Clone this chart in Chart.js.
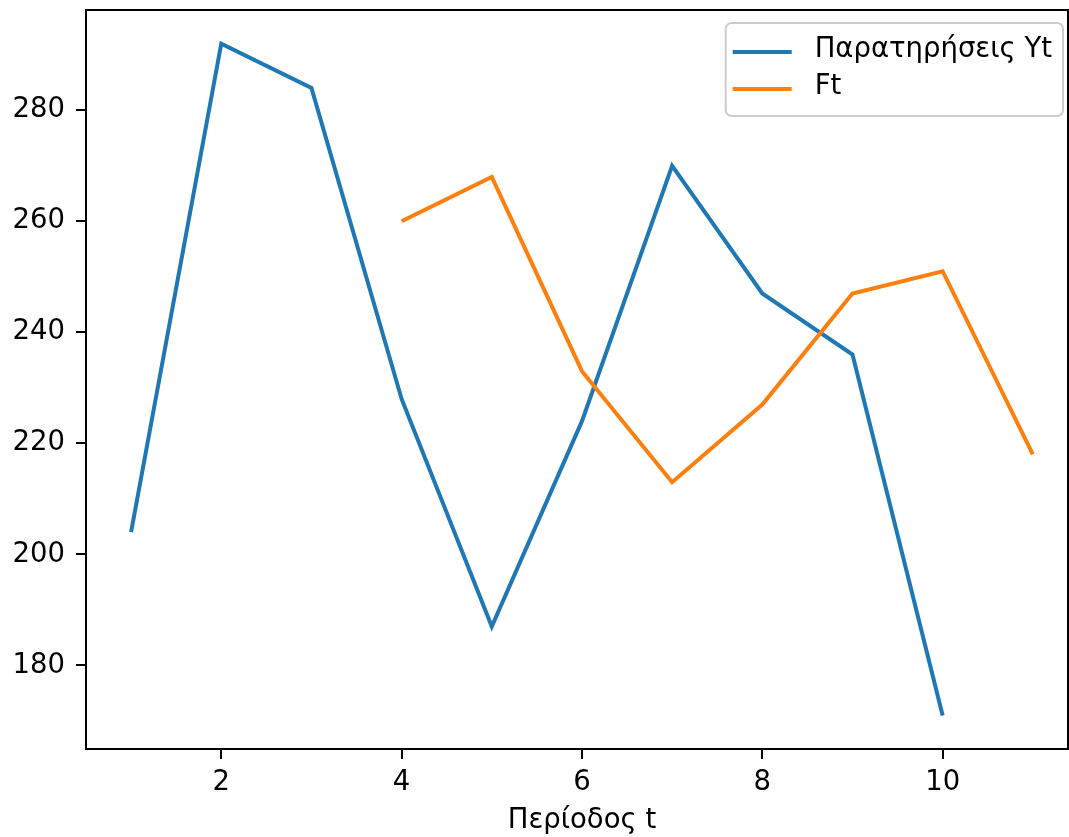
<!DOCTYPE html>
<html><head><meta charset="utf-8">
<script src="https://cdn.jsdelivr.net/npm/chart.js@4"></script>
<style>html,body{margin:0;padding:0;background:#fff;overflow:hidden}#wrap{width:1069px;height:837px}</style>
</head><body><div id="wrap"><canvas id="c" width="1069" height="837"></canvas></div>
<script>
const periods = [1,2,3,4,5,6,7,8,9,10,11];
const observations = [204,292,284,228,187,224,270,247,236,171,null];
const forecasts = [null,null,null,260,268,233,213,227,247,251,218];
const xTicks = [2,4,6,8,10];
const yTicks = [180,200,220,240,260,280];
const seriesLabels = ['Παρατηρήσεις Yt','Ft'];
const xAxisLabel = 'Περίοδος t';

const FONT = 'DejaVu Sans';
const FS = 27.5;

function pts(vals){ return periods.map((p,i)=>({x:p,y:vals[i]})); }

const frame = {
  id:'frame',
  afterDraw(chart){
    const {ctx, chartArea:a} = chart;
    ctx.save();
    ctx.strokeStyle='#000'; ctx.lineWidth=2;
    ctx.strokeRect(a.left, a.top, a.right-a.left, a.bottom-a.top);
    const xs = chart.scales.x;
    const cx = (xs.getPixelForValue(0.5)+xs.getPixelForValue(11.5))/2;
    ctx.fillStyle='#000';
    ctx.font = FS+'px "'+FONT+'"';
    ctx.textAlign='center'; ctx.textBaseline='alphabetic';
    ctx.fillText(xAxisLabel, cx, 828);
    const labels = chart.data.datasets.map(d=>d.label);
    const textW = Math.max(...labels.map(l=>ctx.measureText(l).width));
    const w = 11 + 56 + 22 + textW + 11;
    const right = a.right - 5, top = a.top + 13, h = 93;
    const left = right - w;
    ctx.beginPath();
    ctx.roundRect(left, top, w, h, 6);
    ctx.fillStyle='rgba(255,255,255,0.8)'; ctx.fill();
    ctx.strokeStyle='#cccccc'; ctx.lineWidth=2; ctx.stroke();
    chart.data.datasets.forEach((d,i)=>{
      const y = top + 29 + i*37;
      ctx.beginPath();
      ctx.moveTo(left+7, y); ctx.lineTo(left+66, y);
      ctx.strokeStyle=d.borderColor; ctx.lineWidth=4; ctx.stroke();
      ctx.fillStyle='#000'; ctx.textAlign='left'; ctx.textBaseline='alphabetic';
      ctx.fillText(d.label, left+89, y+5);
    });
    ctx.restore();
  }
};

function noPad(s){ s.paddingTop=0; s.paddingBottom=0; s.paddingLeft=0; s.paddingRight=0; }

const tickFont = {family:FONT, size:FS};
new Chart(document.getElementById('c'), {
  type:'line',
  data:{
    datasets:[
      {label:seriesLabels[0], data:pts(observations), borderColor:'#1f77b4', backgroundColor:'#1f77b4', borderWidth:4, pointRadius:0, tension:0, order:1},
      {label:seriesLabels[1], data:pts(forecasts), borderColor:'#ff7f0e', backgroundColor:'#ff7f0e', borderWidth:4, pointRadius:0, tension:0, order:0}
    ]
  },
  options:{
    responsive:false, animation:false, devicePixelRatio:1,
    layout:{padding:{top:10, right:1, left:0, bottom:0}},
    plugins:{legend:{display:false}, tooltip:{enabled:false}},
    scales:{
      x:{type:'linear', min:0.5, max:11.39,
        afterBuildTicks:s=>{s.ticks = xTicks.map(v=>({value:v}));},
        afterFit:s=>{s.height=88; noPad(s);},
        ticks:{font:tickFont, color:'#000', padding:7, maxRotation:0, autoSkip:false},
        grid:{drawOnChartArea:false, drawTicks:true, tickLength:10, color:'#000', lineWidth:2},
        border:{display:false}
      },
      y:{type:'linear', min:164.95, max:298.05,
        afterBuildTicks:s=>{s.ticks = yTicks.map(v=>({value:v}));},
        afterFit:s=>{s.width=86; noPad(s);},
        ticks:{font:tickFont, color:'#000', padding:11},
        grid:{drawOnChartArea:false, drawTicks:true, tickLength:10, color:'#000', lineWidth:2},
        border:{display:false}
      }
    }
  },
  plugins:[frame]
});
</script></body></html>
